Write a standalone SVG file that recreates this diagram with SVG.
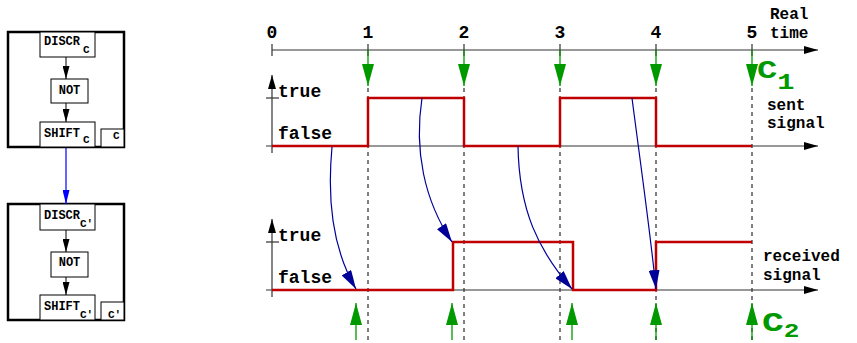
<svg xmlns="http://www.w3.org/2000/svg" width="857" height="343" viewBox="0 0 857 343">
<style>
.t{font-family:"Liberation Mono","DejaVu Sans Mono",monospace;font-weight:bold;fill:#000}
.lbl{font-size:18px}
.lb2{font-size:16px}
.box{font-size:12px}
.sub{font-size:11px}
.cl{font-family:"Liberation Mono","DejaVu Sans Mono",monospace;font-weight:bold;fill:#009900}
.frame{fill:#fff;stroke:#000;stroke-width:2.5}
.nd{fill:#fff;stroke:#000;stroke-width:1}
.ax{stroke:#333;stroke-width:1.2;fill:none}
.sig{stroke:#c00000;stroke-width:2.5;fill:none}
.dash{stroke:#000;stroke-width:1;stroke-dasharray:4,4;fill:none}
.gr{stroke:#009900;stroke-width:1.3;fill:none}
.nv{stroke:#000099;stroke-width:1.2;fill:none}
</style>
<defs>
<marker id="hBlk" viewBox="0 0 13 7" refX="13" refY="3.5" markerWidth="13" markerHeight="7" markerUnits="userSpaceOnUse" orient="auto"><path d="M0,0 L13,3.5 L0,7 z" fill="#000"/></marker>
<marker id="hAx" viewBox="0 0 14 8" refX="14" refY="4" markerWidth="14" markerHeight="8" markerUnits="userSpaceOnUse" orient="auto"><path d="M0,0 L14,4 L0,8 z" fill="#000"/></marker>
<marker id="hBlue" viewBox="0 0 14 7" refX="14" refY="3.5" markerWidth="14" markerHeight="7" markerUnits="userSpaceOnUse" orient="auto"><path d="M0,0 L14,3.5 L0,7 z" fill="#0000ff"/></marker>
<marker id="hGr" viewBox="0 0 22 12" refX="22" refY="6" markerWidth="22" markerHeight="12" markerUnits="userSpaceOnUse" orient="auto"><path d="M0,0 L22,6 L0,12 z" fill="#009900"/></marker>
<marker id="hNv" viewBox="0 0 19 11" refX="19" refY="5.5" markerWidth="19" markerHeight="11" markerUnits="userSpaceOnUse" orient="auto"><path d="M0,0 L19,5.5 L0,11 z" fill="#000099"/></marker>
</defs>
<rect width="857" height="343" fill="#fff"/>

<g id="block1">
<rect class="frame" x="8" y="32" width="116" height="115"/>
<g id="discr1"><rect class="nd" x="40" y="32" width="55" height="25"/><text class="t box" x="44" y="45">DISCR</text><text class="t sub" x="83" y="53">C</text></g>
<g id="not1"><rect class="nd" x="51" y="79" width="37" height="24"/><text class="t box" x="69.5" y="94" text-anchor="middle">NOT</text></g>
<g id="shift1"><rect class="nd" x="40" y="122" width="55" height="25"/><text class="t box" x="44" y="137">SHIFT</text><text class="t sub" x="83" y="143">C</text></g>
<g id="clock1"><rect class="nd" x="101" y="129" width="23" height="18"/><text class="t sub" x="113" y="139">C</text></g>
</g>

<g id="block2">
<rect class="frame" x="8" y="204" width="116" height="116"/>
<g id="discr2"><rect class="nd" x="40" y="204" width="55" height="26"/><text class="t box" x="44" y="219">DISCR</text><text class="t sub" x="80" y="227">C′</text></g>
<g id="not2"><rect class="nd" x="51" y="252" width="37" height="25"/><text class="t box" x="69.5" y="266" text-anchor="middle">NOT</text></g>
<g id="shift2"><rect class="nd" x="40" y="295" width="55" height="25"/><text class="t box" x="44" y="310">SHIFT</text><text class="t sub" x="80" y="318">C′</text></g>
<g id="clock2"><rect class="nd" x="101" y="302" width="23" height="18"/><text class="t sub" x="108" y="318">C′</text></g>
</g>

<g id="time-axis">
<line class="ax" x1="272" y1="50" x2="818" y2="50" marker-end="url(#hAx)"/>
<path class="ax" d="M272,44V56M368,44V56M464,44V56M560,44V56M656,44V56M752,44V56"/>
<g class="t lbl" text-anchor="middle">
<text x="272" y="38">0</text><text x="368" y="38">1</text><text x="464" y="38">2</text><text x="560" y="38">3</text><text x="656" y="38">4</text><text x="752" y="38">5</text>
</g>
<text class="t lb2" x="770" y="19">Real</text>
<text class="t lb2" x="770" y="38">time</text>
</g>

<g id="grid">
<path class="dash" d="M368,88V343M464,88V343M560,88V343M656,88V343M752,88V343"/>
</g>

<g id="sent-axes">
<line class="ax" x1="266" y1="146" x2="818" y2="146" marker-end="url(#hAx)"/>
<line class="ax" x1="272" y1="153" x2="272" y2="75" marker-end="url(#hAx)"/>
<line class="ax" x1="266" y1="98" x2="279" y2="98"/>
<text class="t lbl" x="278" y="97">true</text>
<text class="t lbl" x="278" y="139">false</text>
<text class="t lb2" x="767" y="110">sent</text>
<text class="t lb2" x="767" y="128">signal</text>
</g>

<g id="received-axes">
<line class="ax" x1="266" y1="290" x2="818" y2="290" marker-end="url(#hAx)"/>
<line class="ax" x1="272" y1="297" x2="272" y2="219" marker-end="url(#hAx)"/>
<line class="ax" x1="266" y1="242" x2="279" y2="242"/>
<text class="t lbl" x="278" y="241">true</text>
<text class="t lbl" x="278" y="283">false</text>
<text class="t lb2" x="763" y="261">received</text>
<text class="t lb2" x="763" y="280">signal</text>
</g>

<g id="sent-signal"><path class="sig" d="M272,146H368V98H464V146H560V98H656V146H752"/></g>
<g id="received-signal"><path class="sig" d="M272,290H453V242H573V290H656V242H752"/></g>

<g id="clock-labels">
<text class="cl" font-size="26" transform="translate(757,78) scale(1.3,1)">C<tspan font-size="22" dy="11">1</tspan></text>
<text class="cl" font-size="28" transform="translate(762,331) scale(1.3,1)">C<tspan font-size="20" dy="6">2</tspan></text>
</g>

<g id="connectors">
<line x1="66" y1="57" x2="66" y2="79" stroke="#000" stroke-width="1" marker-end="url(#hBlk)"/>
<line x1="66" y1="103" x2="66" y2="122" stroke="#000" stroke-width="1" marker-end="url(#hBlk)"/>
<line x1="66" y1="230" x2="66" y2="252" stroke="#000" stroke-width="1" marker-end="url(#hBlk)"/>
<line x1="66" y1="277" x2="66" y2="295" stroke="#000" stroke-width="1" marker-end="url(#hBlk)"/>
<line x1="66" y1="148" x2="66" y2="204" stroke="#0000ff" stroke-width="1.2" marker-end="url(#hBlue)"/>
<g class="gr">
<line x1="368" y1="50" x2="368" y2="86" marker-end="url(#hGr)"/>
<line x1="464" y1="50" x2="464" y2="86" marker-end="url(#hGr)"/>
<line x1="560" y1="50" x2="560" y2="86" marker-end="url(#hGr)"/>
<line x1="656" y1="50" x2="656" y2="86" marker-end="url(#hGr)"/>
<line x1="752" y1="50" x2="752" y2="86" marker-end="url(#hGr)"/>
<line x1="356" y1="340" x2="356" y2="303" marker-end="url(#hGr)"/>
<line x1="452" y1="340" x2="452" y2="303" marker-end="url(#hGr)"/>
<line x1="572" y1="340" x2="572" y2="303" marker-end="url(#hGr)"/>
<line x1="656" y1="340" x2="656" y2="303" marker-end="url(#hGr)"/>
<line x1="752" y1="340" x2="752" y2="303" marker-end="url(#hGr)"/>
</g>
<g class="nv">
<path d="M332,147 C327,200 333,250 356,289" marker-end="url(#hNv)"/>
<path d="M422,98 C414,150 424,200 452,242" marker-end="url(#hNv)"/>
<path d="M518,146 C519,210 538,250 572,289" marker-end="url(#hNv)"/>
<path d="M632,98 C640,160 650,230 656,289" marker-end="url(#hNv)"/>
</g>
</g>
</svg>
